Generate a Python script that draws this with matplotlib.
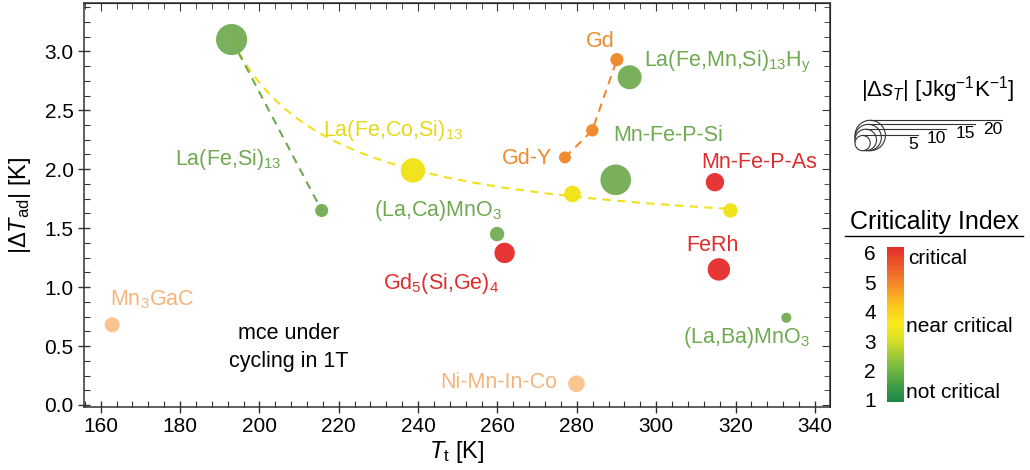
import numpy as np
import matplotlib
matplotlib.use("Agg")
import matplotlib.pyplot as plt
from matplotlib.colors import LinearSegmentedColormap
from matplotlib.patches import Circle
from matplotlib.ticker import MultipleLocator

plt.rcParams['font.family'] = ['Liberation Sans', 'DejaVu Sans']
plt.rcParams['mathtext.fontset'] = 'custom'
plt.rcParams['mathtext.rm'] = 'Liberation Sans'
plt.rcParams['mathtext.it'] = 'Liberation Sans:italic'
plt.rcParams['mathtext.bf'] = 'Liberation Sans:bold'

# transition temperature [K], |dT_ad| [K], |ds_T| [J/kgK], colour group
T_t = [193.0, 215.7, 238.7, 278.9, 318.7, 259.9, 261.8, 315.8, 332.8,
       279.9, 162.9, 290.1, 293.3, 283.9, 277.0, 289.8, 314.8]
dT_ad = [3.10, 1.65, 1.99, 1.79, 1.65, 1.45, 1.29, 1.15, 0.74,
         0.18, 0.68, 2.93, 2.78, 2.33, 2.10, 1.91, 1.89]
ds_T = [21.0, 3.7, 12.9, 6.0, 4.5, 4.5, 9.0, 10.9, 2.2,
        6.0, 4.9, 3.7, 12.5, 3.3, 3.1, 20.3, 7.3]
group = ["green", "green", "yellow", "yellow", "yellow", "green", "red", "red", "green",
         "light", "light", "orange", "green", "orange", "orange", "green", "red"]

colors = {"green": "#7ab05c", "yellow": "#f2e41c", "orange": "#f08c30",
          "light": "#f9c490", "red": "#e63636"}
text_colors = {"green": "#6fa952", "yellow": "#e6d81a", "orange": "#ef8a2c",
               "light": "#f5b57a", "red": "#e02c2c"}

# index ranges of the connected series
fit_idx = [0, 2, 3, 4]        # La(Fe,Co,Si)13 trend, starting at La(Fe,Si)13
green_idx = [0, 1]            # La(Fe,Si)13 under cycling
gd_idx = [14, 13, 11]         # Gd-Y -> Gd

labels = ["Gd", r"La(Fe,Mn,Si)$_{13}$H$_\mathrm{y}$", r"La(Fe,Co,Si)$_{13}$", "Mn-Fe-P-Si",
          r"La(Fe,Si)$_{13}$", "Gd-Y", "Mn-Fe-P-As", r"(La,Ca)MnO$_3$", "FeRh",
          r"Gd$_5$(Si,Ge)$_4$", r"Mn$_3$GaC", "(La,Ba)MnO$_3$", "Ni-Mn-In-Co"]
label_x = [285.8, 297.0, 216.0, 289.3, 178.7, 273.7, 311.4, 228.8, 307.6, 231.1, 162.3, 306.8, 245.7]
label_y = [3.08, 2.91, 2.33, 2.29, 2.08, 2.09, 2.06, 1.65, 1.35, 1.03, 0.89, 0.57, 0.195]
label_ha = ["center", "left", "left", "left", "left", "right", "left", "left", "left",
            "left", "left", "left", "left"]
label_group = ["orange", "green", "yellow", "green", "green", "orange", "red", "green", "red",
               "red", "light", "green", "light"]

legend_sizes = [5, 10, 15, 20]
crit_ticks = [1, 2, 3, 4, 5, 6]

# bubble radius in pixels per sqrt(J/kgK)
R_PX = 3.4
DPI = 100


def marker_area(s):
    d_pt = 2 * R_PX * np.sqrt(s) * 72.0 / DPI
    return d_pt ** 2


fig = plt.figure(figsize=(10.3, 4.7), dpi=DPI)
ax = fig.add_axes([84 / 1030, 63 / 470, 746 / 1030, 404 / 470])

T_t = np.array(T_t)
dT_ad = np.array(dT_ad)

# hyperbolic trend y = a + b / (x - c), c by grid search
xf, yf = T_t[fit_idx], dT_ad[fit_idx]
best = None
for c in np.linspace(100, 190, 901):
    A = np.column_stack([np.ones_like(xf), 1.0 / (xf - c)])
    coef, res, *_ = np.linalg.lstsq(A, yf, rcond=None)
    err = np.sum((A @ coef - yf) ** 2)
    if best is None or err < best[0]:
        best = (err, c, coef)
_, c, (a, b) = best
xs = np.linspace(xf.min(), xf.max(), 200)
ax.plot(xs, a + b / (xs - c), ls=(0, (4, 3)), color="#f0e020", lw=1.5, zorder=3)

ax.plot(T_t[green_idx], dT_ad[green_idx], ls=(0, (4, 3)), color="#6fa952", lw=1.5, zorder=3)
ax.plot(T_t[gd_idx], dT_ad[gd_idx], ls=(0, (4, 3)), color="#ef8a2c", lw=1.5, zorder=3)

ax.scatter(T_t, dT_ad, s=[marker_area(s) for s in ds_T],
           c=[colors[g] for g in group], edgecolors="none", zorder=2)

for t, x, y, ha, g in zip(labels, label_x, label_y, label_ha, label_group):
    ax.text(x, y, t, ha=ha, va="center", fontsize=15.5, color=text_colors[g])

ax.text(207.4, 0.49, "mce under\ncycling in 1T", ha="center", va="center",
        fontsize=15.5, color="black", linespacing=1.45)

ax.set_xlim(155.8, 343.8)
ax.set_ylim(-0.017, 3.41)
ax.xaxis.set_major_locator(MultipleLocator(20))
ax.xaxis.set_minor_locator(MultipleLocator(4))
ax.yaxis.set_major_locator(MultipleLocator(0.5))
ax.yaxis.set_minor_locator(MultipleLocator(0.125))
ax.yaxis.set_major_formatter(matplotlib.ticker.FormatStrFormatter("%.1f"))
ax.tick_params(which="major", direction="inout", length=8, width=1.0, labelsize=15, color="#333333")
ax.tick_params(which="minor", direction="in", length=4, width=0.8, color="#333333")
for sp in ax.spines.values():
    sp.set_color("#333333")
    sp.set_linewidth(1.1)

sec = ax.secondary_xaxis("top")
sec.xaxis.set_major_locator(MultipleLocator(20))
sec.xaxis.set_minor_locator(MultipleLocator(4))
sec.tick_params(which="major", direction="in", length=6, labeltop=False, color="#333333")
sec.tick_params(which="minor", direction="in", length=4, color="#333333")
sec = ax.secondary_yaxis("right")
sec.yaxis.set_major_locator(MultipleLocator(0.5))
sec.yaxis.set_minor_locator(MultipleLocator(0.125))
sec.tick_params(which="major", direction="in", length=6, labelright=False, color="#333333")
sec.tick_params(which="minor", direction="in", length=4, color="#333333")

ax.set_xlabel(r"$\mathit{T}_\mathrm{t}$ [K]", fontsize=17, labelpad=2)
ax.set_ylabel(r"|Δ$\mathit{T}_\mathrm{ad}$| [K]", fontsize=17, labelpad=8)

# overlay in pixel units for the bubble size key
ov = fig.add_axes([0, 0, 1, 1])
ov.set_xlim(0, 1030)
ov.set_ylim(470, 0)
ov.axis("off")
ov.patch.set_alpha(0)

ov.text(938, 90, r"|Δ$\mathit{s}_\mathit{T}$| [Jkg$^{-1}$K$^{-1}$]", ha="center", va="center",
        fontsize=16)
key_left, key_bottom = 855, 150.7
line_end = [918, 946, 975, 1002]
for s, xe in sorted(zip(legend_sizes, line_end), reverse=True):
    r = R_PX * np.sqrt(s)
    cx, cy = key_left + r, key_bottom - r
    ov.add_patch(Circle((cx, cy), r, facecolor="white", edgecolor="#333333", lw=0.8))
    ov.plot([cx, xe], [cy - r, cy - r], color="#333333", lw=0.8)
    ov.text(xe, cy - r + 2, str(s), ha="right", va="top", fontsize=12.5)

# criticality colour bar
cmap = LinearSegmentedColormap.from_list("crit", [
    (0.0, "#17864a"), (0.2, "#6db545"), (0.4, "#d8e028"), (0.5, "#f8ec1a"),
    (0.62, "#fcc81e"), (0.8, "#f27a2a"), (1.0, "#e52d2d")])
cax = fig.add_axes([887 / 1030, 68 / 470, 16 / 1030, 155 / 470])
grad = np.linspace(0, 1, 256).reshape(-1, 1)
cax.imshow(grad, extent=[0, 1, 0.93, 6.2], origin="lower", aspect="auto", cmap=cmap)
cax.set_xlim(0, 1)
cax.set_ylim(0.93, 6.2)
cax.set_xticks([])
cax.set_yticks(crit_ticks)
cax.tick_params(axis="y", length=0, labelsize=15, pad=8)
for sp in cax.spines.values():
    sp.set_visible(False)

ov.text(934, 222, "Criticality Index", ha="center", va="center", fontsize=18)
ov.plot([845, 1023], [236, 236], color="black", lw=1.0)
ov.text(908, 258, "critical", ha="left", va="center", fontsize=15)
ov.text(906, 327, "near critical", ha="left", va="center", fontsize=15)
ov.text(906, 392, "not critical", ha="left", va="center", fontsize=15)

fig.savefig("out.png", dpi=DPI)
